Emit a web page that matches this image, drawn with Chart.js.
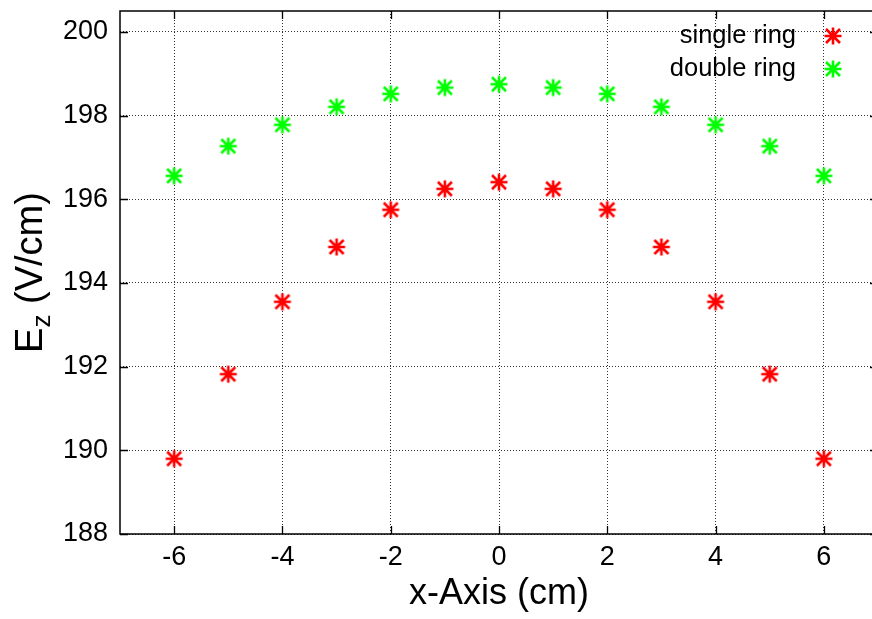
<!DOCTYPE html>
<html>
<head>
<meta charset="utf-8">
<script src="https://cdn.jsdelivr.net/npm/chart.js@4"></script>
<style>
  html, body { margin: 0; padding: 0; background: #fff; overflow: hidden; }
  #wrap { position: absolute; left: 0; top: 0; width: 892px; height: 619px; }
</style>
</head>
<body>
<div id="wrap"><canvas id="ez"></canvas></div>
<script>
/* ── data ─────────────────────────────────────────────────────────── */
const xCm        = [-6, -5, -4, -3, -2, -1, 0, 1, 2, 3, 4, 5, 6];
const singleRing = [189.80, 191.82, 193.55, 194.86, 195.75, 196.25, 196.41, 196.25, 195.75, 194.86, 193.55, 191.82, 189.80];
const doubleRing = [196.56, 197.27, 197.78, 198.21, 198.52, 198.67, 198.75, 198.67, 198.52, 198.21, 197.78, 197.27, 196.56];
const xTicks     = [-6, -4, -2, 0, 2, 4, 6];
const yTicks     = [188, 190, 192, 194, 196, 198, 200];
const seriesNames = ['single ring', 'double ring'];
const seriesColors = ['#ff0000', '#00ff00'];

const FONT = "'Liberation Sans', Arial, Helvetica, sans-serif";
Chart.defaults.font.family = FONT;
Chart.defaults.color = '#000';

/* gnuplot style asterisk: a "+" with an "x" over it */
function asterisk(color) {
    const c = document.createElement('canvas');
    c.width = c.height = 22;
    const g = c.getContext('2d');
    g.strokeStyle = color;
    g.lineWidth = 2.6;
    g.beginPath();
    g.moveTo(11 - 8.5, 11); g.lineTo(11 + 8.5, 11);
    g.moveTo(11, 11 - 8.5); g.lineTo(11, 11 + 8.5);
    g.moveTo(11 - 7, 11 - 7); g.lineTo(11 + 7, 11 + 7);
    g.moveTo(11 - 7, 11 + 7); g.lineTo(11 + 7, 11 - 7);
    g.stroke();
    return c;
}
const markers = seriesColors.map(asterisk);

const pts = ys => xCm.map((x, i) => ({ x, y: ys[i] }));
const series = i => ({
    label: seriesNames[i],
    showLine: false,
    pointStyle: markers[i],
    pointRadius: 10,
    pointHoverRadius: 10,
    borderColor: seriesColors[i],
    backgroundColor: seriesColors[i],
});

/* ── frame, inward tick marks, key, y title ──────────────────────── */
const gnuFrame = {
    id: 'gnuFrame',
    afterDatasetsDraw(chart) {
        const { ctx, chartArea: a, scales: { x, y } } = chart;
        ctx.save();
        ctx.strokeStyle = '#000';
        ctx.lineWidth = 1.5;
        ctx.strokeRect(a.left, a.top, a.right - a.left, a.bottom - a.top);
        ctx.lineWidth = 1.3;
        ctx.beginPath();
        xTicks.forEach(v => {
            const px = Math.round(x.getPixelForValue(v)) + 0.5;
            ctx.moveTo(px, a.bottom); ctx.lineTo(px, a.bottom - 8);
            ctx.moveTo(px, a.top);    ctx.lineTo(px, a.top + 8);
        });
        yTicks.forEach(v => {
            const py = Math.round(y.getPixelForValue(v)) + 0.5;
            ctx.moveTo(a.left, py);  ctx.lineTo(a.left + 8, py);
            ctx.moveTo(a.right, py); ctx.lineTo(a.right - 8, py);
        });
        ctx.stroke();

        // key, top right inside the plot
        ctx.font = `25.5px ${FONT}`;
        ctx.textAlign = 'right';
        ctx.textBaseline = 'middle';
        ctx.fillStyle = '#000';
        seriesNames.forEach((name, i) => {
            const ty = 36 + i * 33;
            ctx.fillText(name, 796, ty);
            ctx.drawImage(markers[i], 833 - 11, ty - 11);
        });

        // E_z (V/cm), rotated, with subscript
        ctx.translate(42, (a.top + a.bottom) / 2);
        ctx.rotate(-Math.PI / 2);
        ctx.textAlign = 'left';
        ctx.textBaseline = 'alphabetic';
        const big = `38px ${FONT}`, small = `26px ${FONT}`;
        ctx.font = big;   const wE = ctx.measureText('E').width;
        const wR = ctx.measureText(' (V/cm)').width;
        ctx.font = small; const wz = ctx.measureText('z').width;
        let cx = -(wE + wz + wR) / 2;
        ctx.font = big;   ctx.fillText('E', cx, 0); cx += wE;
        ctx.font = small; ctx.fillText('z', cx, 8); cx += wz;
        ctx.font = big;   ctx.fillText(' (V/cm)', cx, 0);
        ctx.restore();
    },
};

const noPad = s => { s.paddingTop = s.paddingBottom = s.paddingLeft = s.paddingRight = 0; };

/* ── chart ───────────────────────────────────────────────────────── */
new Chart(document.getElementById('ez'), {
    type: 'scatter',
    data: { datasets: [
        { ...series(0), data: pts(singleRing) },
        { ...series(1), data: pts(doubleRing) },
    ] },
    options: {
        responsive: true,
        maintainAspectRatio: false,
        animation: false,
        devicePixelRatio: 1,
        layout: { padding: { top: 8, right: 14, left: 0, bottom: 0 } },
        plugins: { legend: { display: false }, tooltip: { enabled: false } },
        scales: {
            x: {
                type: 'linear',
                min: -7, max: 7,
                afterBuildTicks: s => { s.ticks = xTicks.map(value => ({ value })); },
                afterFit: s => { s.height = 85; noPad(s); },
                grid: { color: '#333', lineWidth: 1, drawTicks: false },
                border: { display: false, dash: [1, 2] },
                ticks: { font: { size: 27 }, color: '#000', padding: 7, maxRotation: 0 },
                title: { display: true, text: 'x-Axis (cm)', font: { size: 36 }, color: '#000', padding: { top: 0, bottom: 3 } },
            },
            y: {
                type: 'linear',
                min: 188, max: 200.5,
                afterBuildTicks: s => { s.ticks = yTicks.map(value => ({ value })); },
                afterFit: s => { s.width = 120; noPad(s); },
                grid: { color: '#333', lineWidth: 1, drawTicks: false },
                border: { display: false, dash: [1, 2] },
                ticks: { font: { size: 27 }, color: '#000', padding: 12 },
            },
        },
    },
    plugins: [gnuFrame],
});
</script>
</body>
</html>
